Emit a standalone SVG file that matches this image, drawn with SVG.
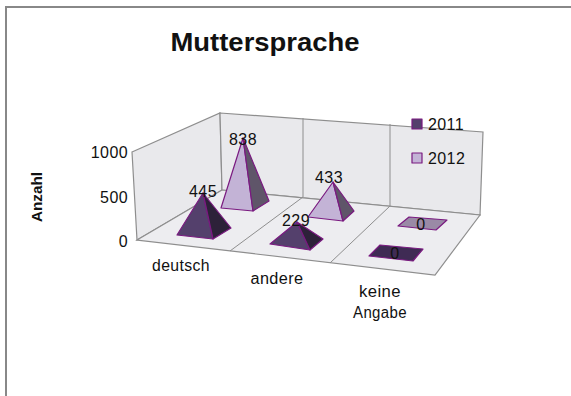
<svg xmlns="http://www.w3.org/2000/svg" width="571" height="396" viewBox="0 0 571 396">
<style>
.t{font-family:"Liberation Sans",Arial,sans-serif;font-size:16px;letter-spacing:0.4px;fill:#111}
.b{font-weight:bold}
.title{font-size:26px;letter-spacing:0}
.ax{font-size:14px;letter-spacing:0}
.wall{fill:#e9e9ec;stroke:#8e8e8e;stroke-width:1.2}
.floor{fill:#ededf0;stroke:#8e8e8e;stroke-width:1.2}
.grid{stroke:#8e8e8e;stroke-width:1;fill:none}
.e{stroke:#7a1a80;stroke-width:1.2;stroke-linejoin:round}
.df{fill:#54406c}.dr{fill:#2d2139}
.lf{fill:#c3b3d6}.lr{fill:#5f5569}
</style>
<rect x="0" y="0" width="571" height="396" fill="#fff"/>
<path d="M6,396 V7 H571" fill="none" stroke="#888" stroke-width="2"/>
<text class="t b title" x="265" y="51" text-anchor="middle" textLength="189" lengthAdjust="spacingAndGlyphs">Muttersprache</text>
<g id="chart-walls">
<polygon class="wall" points="132,152 220,113 222,190 137,240"/>
<polygon class="wall" points="220,113 483,132 480,215 222,190"/>
<polygon class="floor" points="137,240 222,190 480,215 435,275"/>
</g>
<g id="connectors">
<line class="grid" x1="303" y1="118" x2="303" y2="197"/>
<line class="grid" x1="390" y1="124" x2="390" y2="206"/>
<line class="grid" x1="303" y1="197" x2="230" y2="251"/>
<line class="grid" x1="390" y1="206" x2="330" y2="263"/>
</g>
<g id="axis">
<text class="t" x="128" y="158" text-anchor="end">1000</text>
<text class="t" x="128" y="203" text-anchor="end">500</text>
<text class="t" x="128" y="247" text-anchor="end">0</text>
<text class="t b ax" transform="translate(42,197) rotate(-90)" text-anchor="middle" textLength="50" lengthAdjust="spacingAndGlyphs">Anzahl</text>
<text class="t" x="181" y="271" text-anchor="middle" textLength="58" lengthAdjust="spacingAndGlyphs">deutsch</text>
<text class="t" x="277" y="284" text-anchor="middle" textLength="53" lengthAdjust="spacingAndGlyphs">andere</text>
<text class="t" x="380" y="297" text-anchor="middle" textLength="42" lengthAdjust="spacingAndGlyphs">keine</text>
<text class="t" x="380" y="318" text-anchor="middle" textLength="54" lengthAdjust="spacingAndGlyphs">Angabe</text>
</g>
<g id="bar-deutsch-2012">
<polygon class="lf e" points="243,138 221,208 253,211"/>
<polygon class="lr e" points="243,138 253,211 269,201"/>
<text class="t" x="243" y="145" text-anchor="middle">838</text>
</g>
<g id="bar-deutsch-2011">
<polygon class="df e" points="203,193 177,235 213,239"/>
<polygon class="dr e" points="203,193 213,239 231,228"/>
<text class="t" x="203" y="197" text-anchor="middle">445</text>
</g>
<g id="bar-andere-2012">
<polygon class="lf e" points="333,182 308,217 343,221"/>
<polygon class="lr e" points="333,182 343,221 354,211"/>
<text class="t" x="329" y="183" text-anchor="middle">433</text>
</g>
<g id="bar-andere-2011">
<polygon class="df e" points="297,222 270,244 310,250"/>
<polygon class="dr e" points="297,222 310,250 323,239"/>
<text class="t" x="296" y="226" text-anchor="middle">229</text>
</g>
<g id="bar-keine-2012">
<polygon class="e" fill="#9a8aa6" points="398,226 409,217 447,220 436,230"/>
<text class="t" x="421" y="230" text-anchor="middle">0</text>
</g>
<g id="bar-keine-2011">
<polygon class="e" fill="#3f2b54" points="369,256 380,245 423,249 413,261"/>
<text class="t" x="395" y="259" text-anchor="middle">0</text>
</g>
<g id="legend">
<rect x="412" y="119" width="10" height="10" class="df e"/>
<text class="t" x="428" y="130">2011</text>
<rect x="412" y="153" width="10" height="10" class="lf e"/>
<text class="t" x="428" y="164">2012</text>
</g>
</svg>
